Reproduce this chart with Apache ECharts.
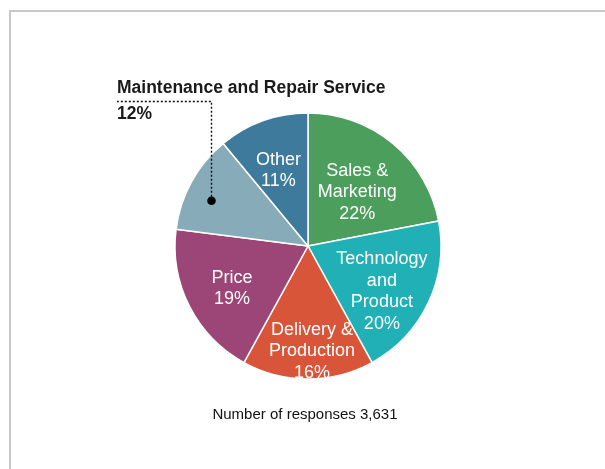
<!DOCTYPE html>
<html>
<head>
<meta charset="utf-8">
<script src="https://cdn.jsdelivr.net/npm/echarts@6/dist/echarts.min.js"></script>
<style>
  html, body { margin: 0; padding: 0; background: #fff; }
  #chart { width: 605px; height: 469px; }
</style>
</head>
<body>
<div id="chart"></div>
<script>
  var categories = ['Sales &\nMarketing', 'Technology\nand\nProduct', 'Delivery &\nProduction', 'Price', 'Maintenance and Repair Service', 'Other'];
  var shares = [22, 20, 16, 19, 12, 11];
  var colors = ['#4b9e5b', '#21b0b5', '#d8553a', '#9c4577', '#88abb9', '#3d7a9b'];
  var responses = '3,631';
  var calloutIndex = 4; // this slice gets its label outside

  var cx = 308, cy = 246, R = 133;
  // nudges from the default "inside" label spot
  var labelShift = [[5, 0], [11, 16], [4, 36], [-14, 11], [0, 0], [-6, -10]];

  var chart = echarts.init(document.getElementById('chart'));

  // dot for the callout sits on the mid angle of its slice
  var total = 0, before = 0;
  for (var i = 0; i < shares.length; i++) {
    total += shares[i];
    if (i < calloutIndex) before += shares[i];
  }
  var mid = (before + shares[calloutIndex] / 2) / total * Math.PI * 2;
  var dotX = Math.round(cx + R * 0.83 * Math.sin(mid)) + 0.5;
  var dotY = cy - R * 0.83 * Math.cos(mid) + 8;
  var leaderY = 101.5, leaderLeft = 117;

  var data = [];
  for (var i = 0; i < shares.length; i++) {
    data.push({
      name: categories[i],
      value: shares[i],
      itemStyle: { color: colors[i] },
      label: { show: i !== calloutIndex }
    });
  }

  chart.setOption({
    animation: false,
    series: [{
      type: 'pie',
      center: [cx, cy],
      radius: R,
      startAngle: 90,
      clockwise: true,
      silent: true,
      itemStyle: { borderColor: '#fff', borderWidth: 1.5 },
      label: {
        position: 'inside',
        color: '#fff',
        fontFamily: 'Liberation Sans, Arial, sans-serif',
        fontSize: 18,
        lineHeight: 21.5,
        formatter: function (p) { return p.name + '\n' + p.value + '%'; }
      },
      labelLine: { show: false },
      labelLayout: function (p) {
        var s = labelShift[p.dataIndex];
        return { dx: s[0], dy: s[1] };
      },
      data: data
    }],
    graphic: [
      {
        type: 'polyline',
        shape: { points: [[dotX, dotY], [dotX, leaderY], [leaderLeft, leaderY]] },
        style: { stroke: '#111', lineWidth: 1.4, lineDash: [2, 2], fill: null },
        z: 10
      },
      {
        type: 'circle',
        shape: { cx: dotX, cy: dotY, r: 4.3 },
        style: { fill: '#000' },
        z: 11
      },
      {
        type: 'text',
        x: leaderLeft, y: 88,
        style: {
          text: categories[calloutIndex],
          fill: '#1a1a1a',
          font: 'bold 17.5px "Liberation Sans", Arial, sans-serif',
          verticalAlign: 'middle'
        }
      },
      {
        type: 'text',
        x: leaderLeft, y: 114,
        style: {
          text: shares[calloutIndex] + '%',
          fill: '#1a1a1a',
          font: 'bold 17.5px "Liberation Sans", Arial, sans-serif',
          verticalAlign: 'middle'
        }
      },
      {
        type: 'text',
        x: 305, y: 415,
        style: {
          text: 'Number of responses ' + responses,
          fill: '#111',
          font: '15px "Liberation Sans", Arial, sans-serif',
          align: 'center',
          verticalAlign: 'middle'
        }
      },
      {
        // frame around the figure, cut off at right and bottom
        type: 'rect',
        shape: { x: 10, y: 11, width: 800, height: 800 },
        style: { fill: null, stroke: '#c8c8c8', lineWidth: 2 }
      }
    ]
  });
</script>
</body>
</html>
